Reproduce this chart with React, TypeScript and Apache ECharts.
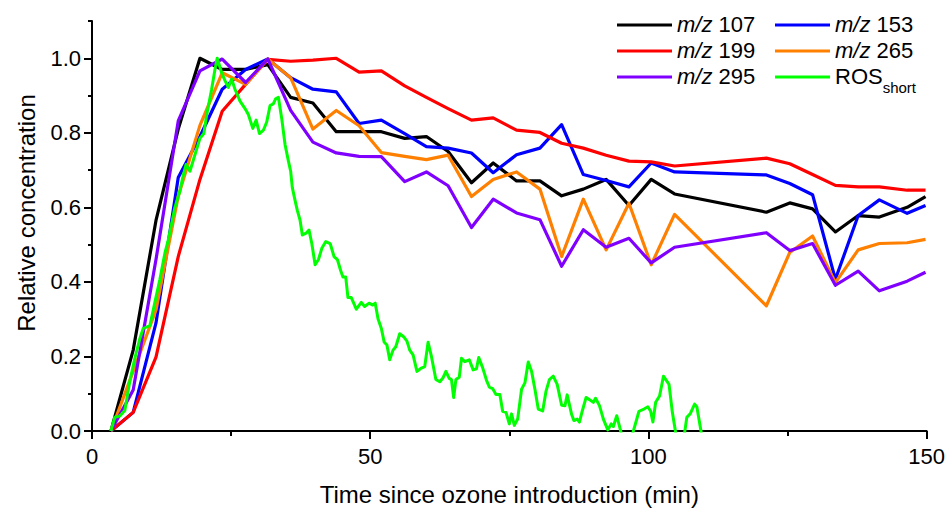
import React, { useEffect, useRef } from "react";
import * as echarts from "echarts";

// Sampling times (min) shared by the m/z series
const times = [3.4, 7.4, 11.5, 15.5, 19.4, 23.4, 27.6, 31.6, 35.7, 39.7, 43.9, 48.0, 52.0, 56.2, 60.1, 64.0, 68.2, 72.1, 76.3, 80.5, 84.4, 88.3, 92.4, 96.5, 100.5, 104.7, 121.2, 125.4, 129.5, 133.6, 137.7, 141.5, 146.5, 149.8];

const mz107 = [0, 0.217, 0.565, 0.81, 1.0, 0.97, 0.97, 0.983, 0.895, 0.88, 0.803, 0.803, 0.803, 0.785, 0.79, 0.75, 0.666, 0.719, 0.671, 0.671, 0.631, 0.649, 0.675, 0.605, 0.675, 0.636, 0.587, 0.612, 0.596, 0.534, 0.578, 0.574, 0.6, 0.629];
const mz153 = [0, 0.05, 0.29, 0.68, 0.79, 0.917, 0.97, 0.998, 0.948, 0.917, 0.91, 0.825, 0.834, 0.798, 0.763, 0.759, 0.746, 0.693, 0.741, 0.759, 0.822, 0.688, 0.672, 0.655, 0.719, 0.695, 0.687, 0.664, 0.634, 0.407, 0.578, 0.62, 0.584, 0.605];
const mz199 = [0, 0.05, 0.198, 0.468, 0.675, 0.858, 0.93, 0.997, 0.992, 0.995, 1.0, 0.963, 0.966, 0.926, 0.895, 0.865, 0.834, 0.84, 0.807, 0.801, 0.772, 0.759, 0.74, 0.724, 0.722, 0.711, 0.732, 0.717, 0.688, 0.659, 0.655, 0.655, 0.646, 0.646];
const mz265 = [0, 0.16, 0.325, 0.63, 0.82, 0.961, 0.93, 0.998, 0.948, 0.81, 0.86, 0.819, 0.747, 0.737, 0.728, 0.74, 0.629, 0.675, 0.695, 0.649, 0.468, 0.622, 0.486, 0.611, 0.446, 0.581, 0.336, 0.479, 0.523, 0.398, 0.486, 0.503, 0.505, 0.514];
const mz295 = [0, 0.11, 0.46, 0.832, 0.966, 0.998, 0.935, 0.998, 0.86, 0.775, 0.746, 0.737, 0.736, 0.669, 0.695, 0.658, 0.546, 0.622, 0.585, 0.567, 0.442, 0.54, 0.493, 0.517, 0.451, 0.493, 0.532, 0.484, 0.503, 0.391, 0.429, 0.376, 0.402, 0.426];

// ROS_short high-resolution trace
const rosTimes = [3.4, 4.1, 5.0, 5.9, 6.8, 7.7, 8.6, 9.2, 10.4, 11.3, 12.2, 13.1, 13.7, 14.3, 14.9, 15.8, 16.3, 16.9, 17.6, 18.5, 19.4, 20.1, 20.6, 21.5, 22.1, 22.5, 23.3, 23.9, 24.5, 25.1, 25.7, 26.6, 27.5, 28.1, 28.9, 29.5, 30.1, 30.8, 31.4, 32.0, 32.6, 33.0, 33.5, 34.1, 34.7, 35.3, 35.7, 36.0, 36.5, 36.9, 37.4, 37.8, 38.4, 39.0, 39.5, 40.1, 40.7, 41.3, 42.0, 42.8, 43.5, 44.1, 44.7, 45.1, 45.6, 46.0, 46.6, 47.5, 48.4, 49.0, 49.8, 50.4, 50.9, 51.4, 52.0, 52.5, 53.0, 53.5, 54.1, 54.6, 55.3, 56.0, 56.6, 57.1, 57.7, 58.4, 59.2, 59.8, 60.4, 61.0, 61.8, 62.5, 63.1, 63.6, 64.2, 64.6, 65.0, 65.4, 66.0, 66.4, 67.0, 67.8, 68.5, 69.1, 69.5, 70.2, 70.9, 71.4, 72.0, 72.6, 73.3, 73.8, 74.4, 75.0, 75.4, 75.9, 76.5, 77.2, 77.8, 78.4, 79.0, 79.6, 80.2, 81.0, 81.6, 82.2, 82.9, 83.6, 84.4, 85.0, 85.4, 86.2, 86.6, 87.2, 87.6, 88.1, 88.8, 89.5, 90.1, 90.5, 91.2, 91.9, 92.7, 93.3, 93.7, 94.3, 95.1, 95.8, 96.6, 97.2, 98.3, 99.2, 99.9, 100.4, 100.8, 101.3, 102.0, 102.7, 103.7, 104.3, 104.9, 105.6, 106.5, 106.9, 107.5, 108.3, 108.7, 109.5, 110.0];
const rosValues = [0, 0.037, 0.04, 0.055, 0.134, 0.195, 0.248, 0.275, 0.283, 0.345, 0.407, 0.477, 0.512, 0.556, 0.6, 0.644, 0.68, 0.715, 0.697, 0.741, 0.785, 0.798, 0.847, 0.917, 0.97, 1.0, 0.961, 0.94, 0.922, 0.944, 0.917, 0.885, 0.865, 0.849, 0.812, 0.834, 0.798, 0.807, 0.829, 0.873, 0.878, 0.891, 0.895, 0.838, 0.768, 0.724, 0.697, 0.653, 0.618, 0.592, 0.565, 0.526, 0.53, 0.539, 0.503, 0.446, 0.46, 0.49, 0.508, 0.503, 0.468, 0.46, 0.43, 0.413, 0.413, 0.358, 0.358, 0.327, 0.345, 0.334, 0.343, 0.338, 0.343, 0.301, 0.275, 0.239, 0.231, 0.191, 0.217, 0.226, 0.261, 0.253, 0.241, 0.217, 0.204, 0.16, 0.169, 0.173, 0.238, 0.2, 0.138, 0.132, 0.143, 0.16, 0.141, 0.138, 0.09, 0.138, 0.144, 0.195, 0.186, 0.191, 0.164, 0.167, 0.197, 0.17, 0.136, 0.118, 0.114, 0.098, 0.098, 0.053, 0.05, 0.019, 0.046, 0.015, 0.032, 0.112, 0.129, 0.185, 0.16, 0.112, 0.059, 0.054, 0.107, 0.138, 0.147, 0.125, 0.069, 0.068, 0.097, 0.044, 0.028, 0.032, 0.024, 0.053, 0.09, 0.083, 0.077, 0.088, 0.068, 0.032, 0.003, 0.019, 0.012, 0.041, -0.005, -0.04, -0.03, -0.005, 0.053, 0.059, 0.065, 0.053, 0.024, 0.077, 0.094, 0.147, 0.125, 0.05, -0.005, -0.04, -0.005, 0.037, 0.046, 0.072, 0.065, -0.005, -0.04];

const seriesNames = ["m/z 107", "m/z 153", "m/z 199", "m/z 265", "m/z 295", "ROSshort"];
const seriesColors = ["#000000", "#0000ff", "#ff0000", "#ff8000", "#8000ff", "#00ff00"];

const yMajorTicks = [0, 0.2, 0.4, 0.6, 0.8, 1.0];
const yMinorTicks = [0.1, 0.3, 0.5, 0.7, 0.9, 1.1];

const FONT = "'Liberation Sans', Arial, sans-serif";

export default function App() {
  const ref = useRef<HTMLDivElement>(null);

  useEffect(() => {
    const el = ref.current;
    if (!el) return;
    const chart = echarts.init(el, null, { renderer: "svg" });

    const mzSets = [mz107, mz153, mz199, mz265, mz295];
    const lineSeries: any[] = mzSets.map((vals, i) => ({
      name: seriesNames[i],
      type: "line",
      data: times.map((t, k) => [t, vals[k]]),
      symbol: "none",
      showSymbol: false,
      clip: true,
      lineStyle: { color: seriesColors[i], width: 3.2, join: "round" },
      itemStyle: { color: seriesColors[i] },
    }));
    lineSeries.push({
      name: seriesNames[5],
      type: "line",
      data: rosTimes.map((t, k) => [t, rosValues[k]]),
      symbol: "none",
      showSymbol: false,
      clip: true,
      lineStyle: { color: seriesColors[5], width: 3, join: "round" },
      itemStyle: { color: seriesColors[5] },
    });

    const rich = {
      i: { fontStyle: "italic", fontSize: 22, fontFamily: FONT, color: "#000", lineHeight: 24, verticalAlign: "top" },
      n: { fontSize: 22, fontFamily: FONT, color: "#000", lineHeight: 24, verticalAlign: "top" },
      r: { fontSize: 22, fontFamily: FONT, color: "#000", lineHeight: 24, verticalAlign: "top" },
      sub: { fontSize: 15, fontFamily: FONT, color: "#000", lineHeight: 15, verticalAlign: "top", padding: [15, 0, 0, 0] },
    };
    const legendFormatter = (name: string) => {
      if (name === "ROSshort") return "{r|ROS}{sub|short}";
      return "{i|m/z}{n| " + name.slice(4) + "}";
    };
    const legendBase = {
      orient: "vertical",
      top: 13,
      icon: "rect",
      itemWidth: 55,
      itemHeight: 3.2,
      itemGap: 4,
      padding: 0,
      formatter: legendFormatter,
      textStyle: { fontSize: 22, fontFamily: FONT, color: "#000", rich },
    };

    const axisLineStyle = { color: "#000", width: 2 };

    chart.setOption({
      animation: false,
      backgroundColor: "#ffffff",
      grid: { left: 92, top: 21, width: 835, height: 416, containLabel: false },
      legend: [
        { ...legendBase, left: 617, data: ["m/z 107", "m/z 199", "m/z 295"] },
        { ...legendBase, left: 775, data: ["m/z 153", "m/z 265", "ROSshort"] },
      ],
      xAxis: {
        type: "value",
        min: 0,
        max: 150,
        interval: 50,
        name: "Time since ozone introduction (min)",
        nameLocation: "middle",
        nameGap: 51,
        nameTextStyle: { fontSize: 24, fontFamily: FONT, color: "#000" },
        axisLine: { show: true, onZero: false, lineStyle: axisLineStyle },
        axisTick: { show: true, inside: false, length: 8, lineStyle: axisLineStyle },
        minorTick: { show: true, splitNumber: 2, length: 5, lineStyle: axisLineStyle },
        splitLine: { show: false },
        minorSplitLine: { show: false },
        axisLabel: { fontSize: 22, fontFamily: FONT, color: "#000", margin: 14 },
      },
      yAxis: [
        {
          type: "value",
          min: 0,
          max: 1.1,
          interval: 0.1,
          name: "Relative concentration",
          nameLocation: "middle",
          nameGap: 54,
          nameTextStyle: { fontSize: 24, fontFamily: FONT, color: "#000", padding: [0, 0, 0, 26] },
          axisLine: { show: true, onZero: false, lineStyle: axisLineStyle },
          axisTick: { show: true, inside: false, length: 8, lineStyle: axisLineStyle, customValues: yMajorTicks },
          axisLabel: {
            fontSize: 22,
            fontFamily: FONT,
            color: "#000",
            margin: 11,
            customValues: yMajorTicks,
            formatter: (v: number) => v.toFixed(1),
          },
          splitLine: { show: false },
        },
        {
          type: "value",
          min: 0,
          max: 1.1,
          interval: 0.1,
          position: "left",
          axisLine: { show: false },
          axisTick: { show: true, inside: false, length: 4, lineStyle: axisLineStyle, customValues: yMinorTicks },
          axisLabel: { show: false },
          splitLine: { show: false },
        },
      ],
      series: lineSeries,
    });

    return () => chart.dispose();
  }, []);

  return (
    <div
      ref={ref}
      style={{ position: "absolute", left: 0, top: 0, width: 948, height: 511, background: "#fff" }}
    />
  );
}
